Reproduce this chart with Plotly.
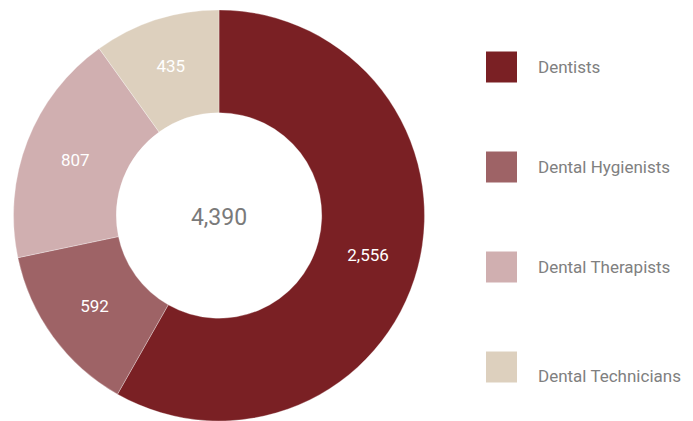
import plotly.graph_objects as go

labels = ["Dentists", "Dental Hygienists", "Dental Therapists", "Dental Technicians"]
values = [2556, 592, 807, 435]
colors = ["#7A2024", "#9E6366", "#D0AFB0", "#DDD0BE"]
total_label = "4,390"

# page body has an 8px margin; work in reference pixel coords and shift
OFF = 8
W, H = 693 - OFF, 421 - OFF


def px(x):
    return (x - OFF) / W


def py(y):
    return 1 - (y - OFF) / H


fig = go.Figure()
fig.add_trace(go.Pie(
    labels=labels, values=values,
    marker=dict(colors=colors, line=dict(color="rgba(255,255,255,0.6)", width=0.5)),
    hole=0.5, sort=False, direction="clockwise", rotation=0,
    texttemplate="%{value:,}", textposition="inside", insidetextorientation="horizontal",
    textfont=dict(color="white", size=17, family="Roboto"),
    domain=dict(x=[px(13.5), px(424.5)], y=[py(421), py(10)]),
    title=dict(text=total_label, position="middle center",
               font=dict(size=23, color="#7a7a7a", family="Roboto")),
    showlegend=False, hoverinfo="label+value",
))

# custom legend
for i, (lab, col) in enumerate(zip(labels, colors)):
    yc = 67 + 100 * i
    fig.add_shape(type="rect", xref="paper", yref="paper",
                  x0=px(486), x1=px(517), y0=py(yc - 15.5), y1=py(yc + 15.5),
                  fillcolor=col, line=dict(width=0))
    ty = yc + (9 if i == 3 else 0)
    fig.add_annotation(xref="paper", yref="paper", x=px(536), y=py(ty),
                       xanchor="left", yanchor="middle", text=lab, showarrow=False,
                       font=dict(size=17, color="#808080", family="Roboto"))

fig.update_layout(width=W, height=H, margin=dict(l=0, r=0, t=0, b=0),
                  paper_bgcolor="white", plot_bgcolor="white")
fig.write_html("out.html")
